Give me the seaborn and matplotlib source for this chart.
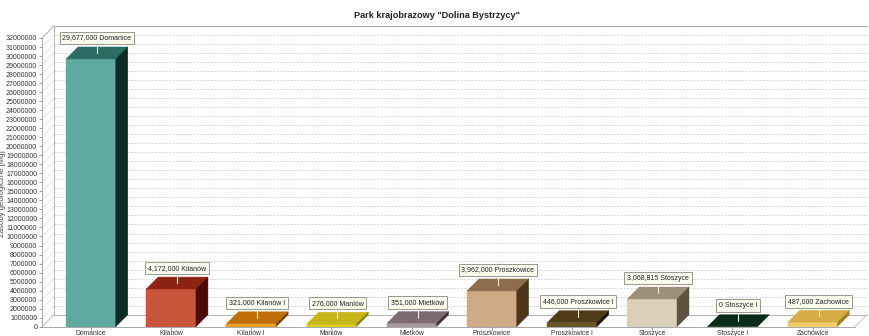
import matplotlib
matplotlib.use("Agg")
import matplotlib.pyplot as plt
import seaborn as sns
import pandas as pd
from matplotlib.patches import Polygon
from matplotlib.transforms import ScaledTranslation

# ---- data ----
categories = ["Domanice", "Kilanów", "Kilanów I", "Maniów", "Mietków",
              "Proszkowice", "Proszkowice I", "Stoszyce", "Stoszyce I", "Zachowice"]
values = [29677000, 4172000, 321000, 276000, 351000,
          3962000, 446000, 3068815, 0, 487000]
front_colors = ["#5fa9a1", "#c9563a", "#f0a020", "#ddcc22", "#a8989f",
                "#cfaa86", "#6b5628", "#dacfb8", "#1a3a28", "#f0cd6c"]
top_colors = ["#2b6c65", "#8c2414", "#c06f08", "#c6b61a", "#7c6a72",
              "#8e6c4e", "#4e3c18", "#9e9078", "#0c2c1a", "#d6ae48"]
side_colors = ["#0c2b26", "#4d0c06", "#7a4000", "#8a7a08", "#3a2c31",
               "#4f3519", "#1e1608", "#5d533f", "#061a0e", "#a88024"]
y_ticks = list(range(0, 32000001, 1000000))
title = 'Park krajobrazowy "Dolina Bystrzycy"'
y_label = "Zasoby geologiczne [Mg]"

df = pd.DataFrame({"cat": categories, "val": values})

W, H = 870, 336
fig = plt.figure(figsize=(W / 100, H / 100), dpi=100)
sns.set_style("white")
plt.rcParams["font.family"] = ["Liberation Sans", "DejaVu Sans"]

left_px, right_px, top_px, bot_px = 42, 855, 38, 326.7
ax = fig.add_axes([left_px / W, (H - bot_px) / H, (right_px - left_px) / W, (bot_px - top_px) / H])

sns.barplot(data=df, x="cat", y="val", hue="cat", palette=front_colors,
            legend=False, width=0.62, ax=ax, saturation=1, zorder=3)

ax.set_ylim(0, 32000000)
ax.set_xlim(-0.61, 9.53)
ax.set_yticks(y_ticks)
ax.set_yticklabels([str(t) for t in y_ticks], fontsize=5, color="#333333")
ax.tick_params(axis="y", length=2.5, width=0.5, color="#777777", pad=1)
ax.tick_params(axis="x", length=2, width=0.5, color="#777777", pad=0.3, labelsize=4.9, labelcolor="#333333")
ax.tick_params(axis="both", which="both", left=True, bottom=True)
ax.set_xlabel("")
ax.set_ylabel(y_label, fontsize=5.6, color="#444444", labelpad=1)
ax.yaxis.set_label_coords(-0.044, 0.46)
for s in ["top", "right"]:
    ax.spines[s].set_visible(False)
for s in ["left", "bottom"]:
    ax.spines[s].set_color("#999999")
    ax.spines[s].set_linewidth(0.6)
ax.patch.set_alpha(0)

fig.text(437 / W, 1 - 15 / H, title, ha="center", va="center", fontsize=6.6,
         fontweight="bold", color="#222222")

# 3D depth offsets (12 px)
d = 0.12
shift = ax.transData + ScaledTranslation(d, d, fig.dpi_scale_trans)
x0l, x1l = ax.get_xlim()

# convert px to data units
px_x = (x1l - x0l) / (right_px - left_px)
px_y = 32000000 / (bot_px - top_px)
ddx, ddy = 12 * px_x, 12 * px_y

# back wall grid lines and frame
for t in y_ticks:
    ax.plot([x0l, x1l], [t, t], transform=shift, color="#c8c8c8", lw=0.5,
            ls=(0, (3, 2)), clip_on=False, zorder=0)
    ax.plot([x0l, x0l + ddx], [t, t + ddy], color="#dddddd", lw=0.5,
            clip_on=False, zorder=0)
ax.plot([x0l, x1l], [0, 0], transform=shift, color="#aaaaaa", lw=0.6, clip_on=False, zorder=0)
ax.plot([x0l, x1l], [32000000, 32000000], transform=shift, color="#aaaaaa", lw=0.8, clip_on=False, zorder=0)
ax.plot([x0l, x0l], [0, 32000000], transform=shift, color="#aaaaaa", lw=0.6, clip_on=False, zorder=0)
ax.plot([x0l, x0l + ddx], [32000000, 32000000 + ddy], color="#aaaaaa", lw=0.6, clip_on=False, zorder=0)
ax.plot([x1l, x1l + ddx], [0, ddy], color="#bbbbbb", lw=0.6, clip_on=False, zorder=0)
ax.plot([x0l, x0l + ddx], [0, ddy], color="#bbbbbb", lw=0.6, clip_on=False, zorder=0)

# top and side faces, labels
for i, p in enumerate(ax.patches):
    bx0 = p.get_x()
    bx1 = bx0 + p.get_width()
    h = p.get_height()
    top = Polygon([(bx0, h), (bx1, h), (bx1 + ddx, h + ddy), (bx0 + ddx, h + ddy)],
                  closed=True, facecolor=top_colors[i], edgecolor=top_colors[i], lw=0.3,
                  zorder=4, clip_on=False)
    side = Polygon([(bx1, 0), (bx1 + ddx, ddy), (bx1 + ddx, h + ddy), (bx1, h)],
                   closed=True, facecolor=side_colors[i], edgecolor=side_colors[i], lw=0.3,
                   zorder=4, clip_on=False)
    ax.add_patch(top)
    ax.add_patch(side)
    p.set_edgecolor(front_colors[i])
    p.set_linewidth(0.3)
    cx = (bx0 + bx1) / 2 + ddx / 2
    ly = h + 21 * px_y
    ax.plot([cx, cx], [h + ddy / 2, ly - 4 * px_y], color="#eeeed8", lw=0.8,
            zorder=5, clip_on=False)
    txt = f"{values[i]:,} {categories[i]}"
    ax.text(cx, ly, txt, ha="center", va="center", fontsize=5, color="#222222",
            zorder=6, clip_on=False,
            bbox=dict(boxstyle="square,pad=0.4", facecolor="#fbfbee", edgecolor="#8a8a7a", lw=0.6))

fig.savefig("out.png", dpi=100, facecolor="white")
